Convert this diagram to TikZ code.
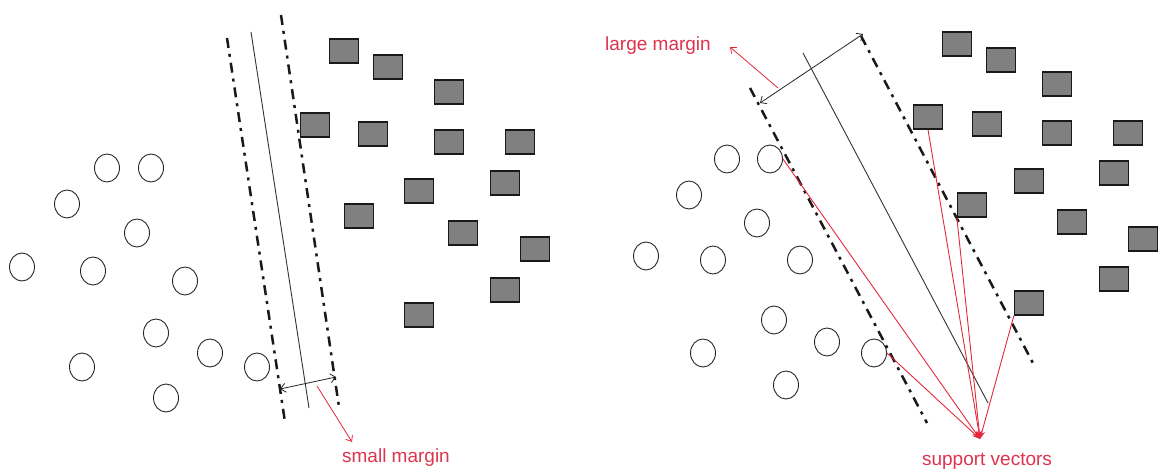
\documentclass[tikz,border=0pt]{standalone}
\usepackage{fontspec}
\setmainfont{Liberation Sans}
\usetikzlibrary{arrows.meta,shapes.geometric}
\definecolor{svred}{RGB}{228,40,60}
\definecolor{txtred}{RGB}{222,52,78}
\definecolor{boxgray}{RGB}{128,128,128}
\begin{document}
\begin{tikzpicture}[x=1pt,y=-1pt,
  pt/.style={ellipse,draw=black!85,line width=0.9pt,minimum width=25pt,minimum height=28pt,inner sep=0pt},
  sq/.style={rectangle,draw=black!90,line width=1.3pt,fill=boxgray,minimum width=29pt,minimum height=24pt,inner sep=0pt},
  bound/.style={line width=2.5pt,draw=black!90,dash pattern=on 10pt off 6pt on 3pt off 6pt},
  hyper/.style={line width=0.9pt,draw=black!80},
  marg/.style={line width=0.8pt,draw=black!85,{Straight Barb[length=5pt,width=9pt]}-{Straight Barb[length=5pt,width=9pt]}},
  redarr/.style={draw=svred,line width=0.8pt,-{Straight Barb[length=5pt,width=8pt]}},
  svarr/.style={draw=svred,line width=0.9pt,-{Stealth[length=8pt,width=6pt]}},
  lbl/.style={text=txtred,font=\fontsize{19}{22}\selectfont,inner sep=0pt}]
\useasboundingbox[fill=white] (0,0) rectangle (1164,470);

% ---------- left panel ----------
\foreach \n/\x/\y in {1/107/168,2/151/168,3/67/204,4/137/233,5/22/267,6/93/271,7/185/281,8/156/333,9/210/353,10/82/367,11/257/367,12/166/398}
  \node[pt] (c\n) at (\x,\y) {};
\foreach \n/\x/\y in {1/344/51,2/388/67,3/449/92,4/315/125,5/373/134,6/449/142,7/520/142,8/505/183,9/419/191,10/359/216,11/463/233,12/535/249,13/505/290,14/419/315}
  \node[sq] (s\n) at (\x,\y) {};

\coordinate (l1a) at (227,38);  \coordinate (l1b) at (285,422);
\coordinate (h1a) at (251,32);  \coordinate (h1b) at (309,408);
\coordinate (l2a) at (281,15);  \coordinate (l2b) at (339,407);
\draw[bound] (l1a) -- (l1b);
\draw[hyper] (h1a) -- (h1b);
\draw[bound] (l2a) -- (l2b);

\coordinate (m1a) at (280,389); \coordinate (m1b) at (336,377);
\draw[marg] (m1a) -- (m1b);
\coordinate (m1r) at (317,386); \coordinate (m1t) at (352,442);
\draw[redarr] (m1r) -- (m1t);
\node[lbl] (small) at (396,458) {small margin};

% ---------- right panel ----------
\foreach \n/\x/\y in {1/727/159,2/770/159,3/689/195,4/757/223,5/646/256,6/713/260,7/800/260,8/774/320,9/827/342,10/703/353,11/874/353,12/786/385}
  \node[pt] (rc\n) at (\x,\y) {};
\foreach \n/\x/\y in {1/957/44,2/1001/60,3/1057/84,4/928/117,5/987/124,6/1057/133,7/1128/133,8/1114/173,9/1029/181,10/972/205,11/1072/222,12/1143/239,13/1114/279,14/1029/303}
  \node[sq] (rs\n) at (\x,\y) {};

\coordinate (l3a) at (750,88);  \coordinate (l3b) at (927,423);
\coordinate (h2a) at (803,53);  \coordinate (h2b) at (988,403);
\coordinate (l4a) at (861,36);  \coordinate (l4b) at (1035,367);
\draw[bound] (l3a) -- (l3b);
\draw[hyper] (h2a) -- (h2b);
\draw[bound] (l4a) -- (l4b);

\coordinate (m2a) at (760,103); \coordinate (m2b) at (863,34);
\draw[marg] (m2a) -- (m2b);
\coordinate (m2r) at (778,88); \coordinate (m2t) at (730,47);
\draw[redarr] (m2r) -- (m2t);
\node[lbl] (large) at (658,46) {large margin};

\coordinate (sv) at (980,439);
\draw[svarr] (rc2.east) -- (sv);
\draw[svarr] (rc11.east) -- (sv);
\draw[svarr] (rs4.south) -- (sv);
\draw[svarr] (rs10.south west) -- (sv);
\draw[svarr] (rs14.south west) -- (sv);
\node[lbl] (svlab) at (987,461) {support vectors};
\end{tikzpicture}
\end{document}
